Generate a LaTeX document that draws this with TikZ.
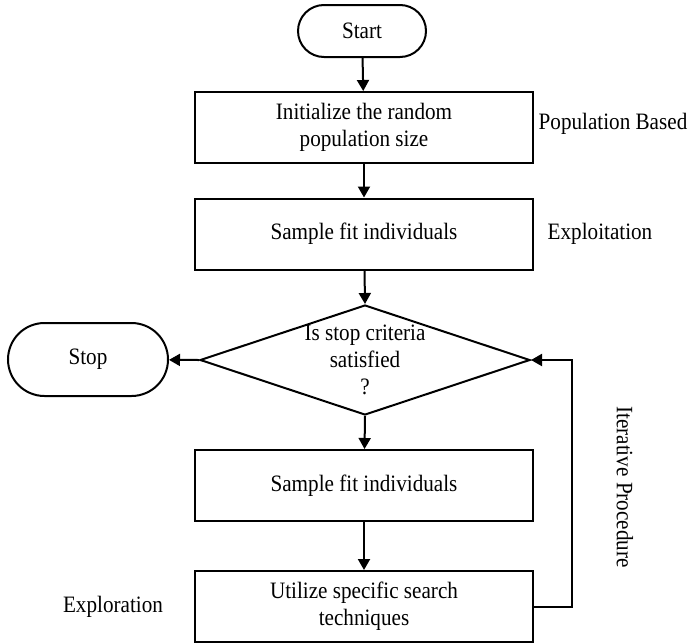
\documentclass[tikz,border=0pt]{standalone}
\usepackage{fontspec}
\setmainfont[FakeStretch=0.9]{Liberation Serif}
\usetikzlibrary{arrows.meta,shapes.geometric,shapes.misc}
\begin{document}
\begin{tikzpicture}[x=1pt,y=-1pt,
  font=\fontsize{23.5}{27}\selectfont,
  every node/.style={inner sep=0pt},
  line/.style={line width=2pt},
  flow/.style={line, -{Triangle[length=11pt,width=12pt]}},
  procbox/.style={draw, line width=2pt, minimum width=338pt, minimum height=71pt, align=center},
  terminal/.style={draw, line width=2pt, rounded rectangle, align=center},
  decision/.style={draw, line width=2pt, diamond, minimum width=330pt, minimum height=110pt},
  note/.style={align=center}]
\useasboundingbox (0,0) rectangle (688,643);

% main column
\node[terminal, minimum width=128pt, minimum height=52pt] (start) at (362,31) {Start};
\node[procbox] (init) at (364,127.5) {Initialize the random\\population size};
\node[procbox] (samp1) at (364,234) {Sample fit individuals};
\node[decision] (dec) at (365,360) {};
\node[align=center] (dectext) at (dec) {Is stop criteria\\satisfied\\?};
\node[procbox] (samp2) at (364,485.5) {Sample fit individuals};
\node[procbox] (util) at (364,606.5) {Utilize specific search\\techniques};
\node[terminal, minimum width=160pt, minimum height=73pt] (stop) at (88,359.5) {Stop};

% side labels
\node[note] (popl) at (613,124) {Population Based};
\node[note] (expl) at (600,234) {Exploitation};
\node[note] (explr) at (113,607) {Exploration};
\node[note, rotate=-90] (iter) at (625,487) {Iterative Procedure};

% connectors
\draw[flow] (start) -- (init);
\draw[flow] (init) -- (samp1);
\draw[flow] (samp1) -- (dec.north);
\draw[flow] (dec.west) -- (stop);
\draw[flow] (dec.south) -- (samp2);
\draw[flow] (samp2) -- (util);
\coordinate (loopA) at (572,607);
\coordinate (loopB) at (572,360);
\draw[flow] (util.east) -- (util.east -| loopA) -- (loopB) -- (dec.east);
\end{tikzpicture}
\end{document}
